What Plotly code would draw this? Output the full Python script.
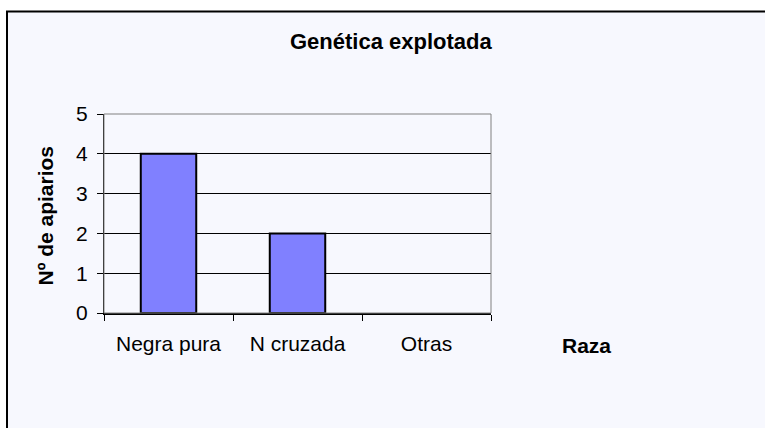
import plotly.graph_objects as go

categories = ["Negra pura", "N cruzada", "Otras"]
apiarios = [4, 2, 0]
y_ticks = [0, 1, 2, 3, 4, 5]

W, H = 765, 428
L, R, T, B = 104, 491, 114, 313

def px(x):
    return (x - L) / (R - L)

def py(y):
    return (B - y) / (B - T)

fig = go.Figure()
fig.add_trace(go.Bar(
    x=categories, y=apiarios, width=0.43,
    marker=dict(color="#8080ff",
                line=dict(color="black", width=[2 if v > 0 else 0 for v in apiarios])),
    hoverinfo="x+y",
))

font = "Liberation Sans, Arial, sans-serif"

fig.update_layout(
    width=W, height=H,
    margin=dict(l=L, r=W - R, t=T, b=H - B),
    paper_bgcolor="white",
    plot_bgcolor="#c0c0c0",
    showlegend=False,
    font=dict(family=font, size=21, color="black"),
    xaxis=dict(
        type="category", tickson="boundaries", ticks="outside", ticklen=6,
        tickcolor="black", tickwidth=1, showline=True, linecolor="black",
        linewidth=2, showgrid=False, tickfont=dict(size=21),
        range=[-0.5, 2.5], ticklabelstandoff=11,
    ),
    yaxis=dict(
        range=[0, 5], tickvals=y_ticks, ticks="outside", ticklen=6,
        tickcolor="black", tickwidth=1, showline=True, linecolor="black",
        linewidth=1, showgrid=True, gridcolor="black", gridwidth=1,
        zeroline=False, tickfont=dict(size=21), ticklabelstandoff=5,
    ),
    shapes=[
        dict(type="rect", xref="paper", yref="paper", layer="below",
             x0=px(7), x1=px(780), y0=py(445), y1=py(11.5),
             fillcolor="#f7f8fe", line=dict(color="black", width=2)),
        dict(type="rect", xref="paper", yref="paper", layer="above",
             x0=0, x1=1, y0=0, y1=1,
             line=dict(color="#808080", width=1)),
    ],
    annotations=[
        dict(text="<b>Genética explotada</b>", xref="paper", yref="paper",
             x=px(391.7), y=py(41), showarrow=False,
             font=dict(size=22, family=font), xanchor="center", yanchor="middle"),
        dict(text="<b>Nº de apiarios</b>", xref="paper", yref="paper",
             x=px(45), y=py(215.5), showarrow=False, textangle=-90,
             font=dict(size=21, family=font), xanchor="center", yanchor="middle"),
        dict(text="<b>Raza</b>", xref="paper", yref="paper",
             x=px(586.7), y=py(345), showarrow=False,
             font=dict(size=21, family=font), xanchor="center", yanchor="middle"),
    ],
)

fig.write_html("out.html",
               config={"displayModeBar": False},
               post_script="document.body.style.margin='0';document.body.style.overflow='hidden';")
